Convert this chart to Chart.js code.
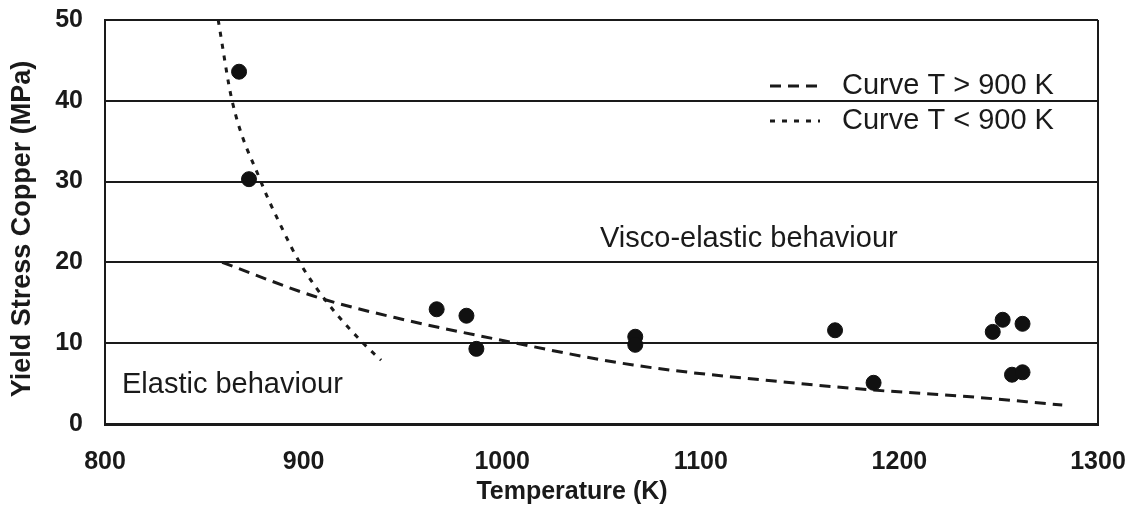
<!DOCTYPE html>
<html>
<head>
<meta charset="utf-8">
<script src="https://cdn.jsdelivr.net/npm/chart.js@4.4.1/dist/chart.umd.min.js"></script>
<style>
    body { margin: 0; background: #fff; }
    #wrap { width: 1134px; height: 513px; }
</style>
</head>
<body>
<div id="wrap"><canvas id="yieldChart"></canvas></div>
<script>
// measured points
const tempPoints = [867.5, 872.5, 967, 982, 987, 1067, 1067, 1167.6, 1187, 1247, 1252, 1262, 1256.7, 1262];
const stressPoints = [43.6, 30.3, 14.2, 13.4, 9.3, 10.8, 9.8, 11.6, 5.1, 11.4, 12.9, 12.4, 6.1, 6.4];

// fitted curve T > 900 K
const hotTemp = [859, 908, 949, 999, 1066, 1150, 1187, 1234, 1282];
const hotStress = [20.0, 15.6, 13.0, 10.4, 7.3, 5.0, 4.2, 3.4, 2.35];

// fitted curve T < 900 K
const coldTemp = [857, 864, 878.5, 889, 898, 912, 930, 939];
const coldStress = [50, 40, 30, 24.3, 20, 15, 10, 7.9];

const xTicks = [800, 900, 1000, 1100, 1200, 1300];
const yTicks = [0, 10, 20, 30, 40, 50];

const legendLabels = ["Curve T > 900 K", "Curve T < 900 K"];
const regionLabels = ["Visco-elastic behaviour", "Elastic behaviour"];

const ink = "#1a1a1a";
const fontFamily = "'Liberation Sans', Arial, sans-serif";

function toXY(xs, ys) {
    return xs.map((x, i) => ({ x: x, y: ys[i] }));
}

const annotations = {
    id: 'annotations',
    afterDraw(chart) {
        const ctx = chart.ctx;
        const area = chart.chartArea;
        ctx.save();

        // right frame edge
        ctx.strokeStyle = ink;
        ctx.lineWidth = 2;
        ctx.beginPath();
        ctx.moveTo(area.right, area.top);
        ctx.lineTo(area.right, area.bottom + 1);
        ctx.stroke();

        ctx.fillStyle = ink;
        ctx.textBaseline = 'alphabetic';
        ctx.textAlign = 'left';
        ctx.font = "29px " + fontFamily;
        ctx.fillText(regionLabels[0], 600, 247);
        ctx.fillText(regionLabels[1], 122, 393);

        // legend
        const rows = [chart.data.datasets[1], chart.data.datasets[2]];
        rows.forEach((ds, i) => {
            const cy = 86 + i * 35;
            ctx.strokeStyle = ink;
            ctx.lineWidth = ds.borderWidth;
            ctx.setLineDash(ds.borderDash);
            ctx.beginPath();
            ctx.moveTo(770, cy);
            ctx.lineTo(820, cy);
            ctx.stroke();
            ctx.setLineDash([]);
            ctx.textBaseline = 'middle';
            ctx.fillText(legendLabels[i], 842, cy);
        });

        // axis titles
        ctx.font = "bold 25px " + fontFamily;
        ctx.textAlign = 'center';
        ctx.textBaseline = 'middle';
        ctx.fillText("Temperature (K)", 572, 492);

        ctx.translate(23, 229);
        ctx.rotate(-Math.PI / 2);
        ctx.font = "bold 27px " + fontFamily;
        ctx.fillText("Yield Stress Copper (MPa)", 0, 0);
        ctx.restore();
    }
};

const ctx = document.getElementById('yieldChart').getContext('2d');
const yieldChart = new Chart(ctx, {
    type: 'scatter',
    data: {
        datasets: [{
            label: "Measured",
            data: toXY(tempPoints, stressPoints),
            backgroundColor: "#111",
            borderColor: "#111",
            pointRadius: 7.5,
            pointHoverRadius: 7.5,
            order: 0
        }, {
            label: legendLabels[0],
            data: toXY(hotTemp, hotStress),
            showLine: true,
            borderColor: "#1a1a1a",
            borderWidth: 3,
            borderDash: [11, 7],
            pointRadius: 0,
            cubicInterpolationMode: 'monotone',
            fill: false,
            order: 1
        }, {
            label: legendLabels[1],
            data: toXY(coldTemp, coldStress),
            showLine: true,
            borderColor: "#1a1a1a",
            borderWidth: 3,
            borderDash: [5, 7],
            pointRadius: 0,
            cubicInterpolationMode: 'monotone',
            fill: false,
            order: 1
        }]
    },
    options: {
        responsive: true,
        maintainAspectRatio: false,
        animation: false,
        layout: {
            padding: { top: 20, right: 36, bottom: 0, left: 0 }
        },
        plugins: {
            legend: { display: false },
            tooltip: { enabled: false }
        },
        scales: {
            x: {
                type: 'linear',
                min: 800,
                max: 1300,
                afterBuildTicks: (scale) => { scale.ticks = xTicks.map(v => ({ value: v })); },
                afterFit: (scale) => { scale.height = 89; },
                // invisible tick marks give the label gap without extra side padding
                grid: {
                    display: true,
                    drawOnChartArea: false,
                    drawTicks: true,
                    tickLength: 23,
                    color: 'transparent',
                    tickColor: 'transparent'
                },
                border: { display: true, color: ink, width: 3 },
                ticks: {
                    color: ink,
                    padding: 0,
                    maxRotation: 0,
                    callback: (v) => String(v),
                    font: { family: fontFamily, size: 25, weight: 'bold' }
                }
            },
            y: {
                min: 0,
                max: 50,
                afterBuildTicks: (scale) => { scale.ticks = yTicks.map(v => ({ value: v })); },
                afterFit: (scale) => { scale.width = 105; },
                grid: {
                    display: true,
                    color: ink,
                    lineWidth: 2,
                    drawTicks: true,
                    tickLength: 22,
                    tickColor: 'transparent'
                },
                border: { display: true, color: ink, width: 2 },
                ticks: {
                    color: ink,
                    padding: 0,
                    callback: (v) => String(v),
                    font: { family: fontFamily, size: 25, weight: 'bold' }
                }
            }
        }
    },
    plugins: [annotations]
});
</script>
</body>
</html>
